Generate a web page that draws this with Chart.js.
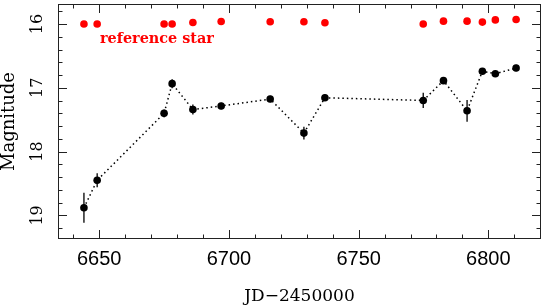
<!DOCTYPE html>
<html>
<head>
<meta charset="utf-8">
<script src="https://cdn.jsdelivr.net/npm/chart.js@4"></script>
<style>
  body { margin: 0; background: #fff; }
  #wrap { width: 545px; height: 305px; }
</style>
</head>
<body>
<div id="wrap"><canvas id="myChart"></canvas></div>
<script>
// light curve (black) and reference star (red)
let jd = [6644.1, 6649.2, 6675.0, 6678.1, 6686.1, 6697.0, 6715.9, 6728.9, 6737.0, 6774.9, 6782.7, 6791.8, 6797.7, 6802.7, 6810.7];
let mag = [18.88, 18.45, 17.40, 16.935, 17.34, 17.285, 17.176, 17.71, 17.156, 17.198, 16.888, 17.36, 16.74, 16.78, 16.69];
let magErr = [0.235, 0.11, 0.06, 0.07, 0.08, 0.05, 0.05, 0.1, 0.05, 0.12, 0.05, 0.17, 0.05, 0.05, 0.05];
let refJd = [6644.1, 6649.2, 6675.0, 6678.1, 6686.1, 6697.0, 6715.9, 6728.9, 6737.0, 6774.9, 6782.7, 6791.8, 6797.7, 6802.7, 6810.7];
let refMag = [16.0, 16.0, 16.0, 16.0, 15.975, 15.96, 15.965, 15.965, 15.98, 16.0, 15.955, 15.955, 15.97, 15.935, 15.93];

let xTicks = [6650, 6700, 6750, 6800];
let xMinor = [6640, 6660, 6670, 6680, 6690, 6710, 6720, 6730, 6740, 6760, 6770, 6780, 6790, 6810, 6820];
let yTicks = [16, 17, 18, 19];
let yMinor = [15.8, 16.2, 16.4, 16.6, 16.8, 17.2, 17.4, 17.6, 17.8, 18.2, 18.4, 18.6, 18.8, 19.2];
let refLabel = { text: "reference star", x: 6650.3, y: 16.305 };

// frame, inward ticks, error bars, label
let extras = {
  id: "extras",
  beforeDatasetsDraw: (chart) => {
    let c = chart.ctx, xs = chart.scales.x, ys = chart.scales.y;
    c.save();
    c.strokeStyle = "#000";
    c.lineWidth = 1.3;
    for (let i = 0; i < jd.length; i++) {
      let px = xs.getPixelForValue(jd[i]);
      c.beginPath();
      c.moveTo(px, ys.getPixelForValue(mag[i] - magErr[i]));
      c.lineTo(px, ys.getPixelForValue(mag[i] + magErr[i]));
      c.stroke();
    }
    c.restore();
  },
  afterDraw: (chart) => {
    let c = chart.ctx, a = chart.chartArea, xs = chart.scales.x, ys = chart.scales.y;
    c.save();
    c.strokeStyle = "#222";
    c.lineWidth = 1;
    c.strokeRect(a.left + 0.5, a.top + 0.5, a.right - a.left - 1, a.bottom - a.top - 1);
    let tick = (v, len, horiz) => {
      c.beginPath();
      if (horiz) {
        let px = Math.round(xs.getPixelForValue(v)) + 0.5;
        c.moveTo(px, a.bottom); c.lineTo(px, a.bottom - len);
        c.moveTo(px, a.top); c.lineTo(px, a.top + len);
      } else {
        let py = Math.round(ys.getPixelForValue(v)) + 0.5;
        c.moveTo(a.left, py); c.lineTo(a.left + len, py);
        c.moveTo(a.right, py); c.lineTo(a.right - len, py);
      }
      c.stroke();
    };
    xTicks.forEach((v) => tick(v, 9, true));
    xMinor.forEach((v) => tick(v, 4.5, true));
    yTicks.forEach((v) => tick(v, 9, false));
    yMinor.forEach((v) => tick(v, 4.5, false));
    c.fillStyle = "#ff0000";
    c.font = "bold 14.4px 'DejaVu Serif'";
    c.textBaseline = "alphabetic";
    c.fillText(refLabel.text, xs.getPixelForValue(refLabel.x), ys.getPixelForValue(refLabel.y));
    c.restore();
  }
};

let noPad = (s) => {
  s.paddingTop = 0;
  s.paddingBottom = 0;
  s.paddingLeft = 0;
  s.paddingRight = 0;
};

let ctx = document.getElementById("myChart").getContext("2d");
let myChart = new Chart(ctx, {
  type: "scatter",
  data: {
    datasets: [
      {
        label: "target",
        data: jd.map((v, i) => ({ x: v, y: mag[i] })),
        showLine: true,
        borderColor: "#000",
        borderWidth: 1.5,
        borderDash: [1.5, 3],
        pointRadius: 3.8,
        pointBackgroundColor: "#000",
        pointBorderWidth: 0
      },
      {
        label: "reference",
        data: refJd.map((v, i) => ({ x: v, y: refMag[i] })),
        showLine: false,
        pointRadius: 3.8,
        pointBackgroundColor: "#ff0000",
        pointBorderWidth: 0
      }
    ]
  },
  options: {
    responsive: true,
    maintainAspectRatio: false,
    animation: false,
    layout: { padding: { top: 1, right: 4, left: 0, bottom: 0 } },
    plugins: { legend: { display: false }, tooltip: { enabled: false } },
    scales: {
      x: {
        type: "linear",
        min: 6634.1,
        max: 6820.3,
        grid: { display: false, drawTicks: false },
        border: { display: false },
        afterBuildTicks: (s) => { s.ticks = xTicks.map((v) => ({ value: v })); },
        afterFit: (s) => { s.height = 66; noPad(s); },
        ticks: {
          padding: 8,
          color: "#000",
          font: { family: "'Liberation Sans'", size: 20 },
          maxRotation: 0,
          callback: (v) => String(v)
        },
        title: {
          display: true,
          text: "JD\u22122450000",
          color: "#000",
          font: { family: "'DejaVu Serif'", size: 17, lineHeight: 1 },
          padding: 0
        }
      },
      y: {
        type: "linear",
        reverse: true,
        min: 15.686,
        max: 19.37,
        grid: { display: false, drawTicks: false },
        border: { display: false },
        afterBuildTicks: (s) => { s.ticks = yTicks.map((v) => ({ value: v })); },
        afterFit: (s) => { s.width = 58; noPad(s); },
        ticks: {
          padding: 9.5,
          color: "#000",
          minRotation: 90,
          maxRotation: 90,
          crossAlign: "center",
          font: { family: "'DejaVu Serif'", size: 16 },
          callback: (v) => String(v)
        },
        title: {
          display: true,
          text: "Magnitude",
          color: "#000",
          font: { family: "'DejaVu Serif'", size: 18, lineHeight: 1 },
          padding: 0
        }
      }
    }
  },
  plugins: [extras]
});
</script>
</body>
</html>
